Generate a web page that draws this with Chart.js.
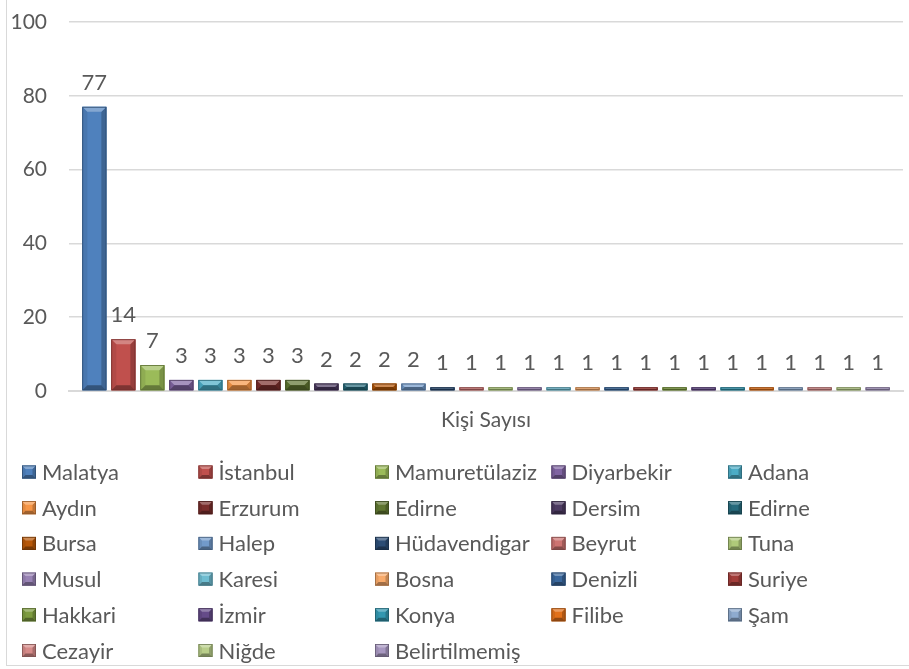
<!DOCTYPE html>
<html>
<head>
<meta charset="utf-8">
<script src="https://cdn.jsdelivr.net/npm/chart.js@4"></script>
<style>
html,body{margin:0;padding:0;background:#fff;overflow:hidden;}
#wrap{position:relative;width:909px;height:669px;}
#frame{position:absolute;left:6px;top:-10px;width:930px;height:676px;border:1.5px solid #d9d9d9;box-sizing:border-box;}
canvas{position:absolute;left:0;top:0;}
</style>
</head>
<body>
<div id="wrap"><div id="frame"></div><canvas id="c" width="909" height="669"></canvas></div>
<script>
const categories = ['Kişi Sayısı'];
const seriesNames = ['Malatya','İstanbul','Mamuretülaziz','Diyarbekir','Adana','Aydın','Erzurum','Edirne','Dersim','Edirne','Bursa','Halep','Hüdavendigar','Beyrut','Tuna','Musul','Karesi','Bosna','Denizli','Suriye','Hakkari','İzmir','Konya','Filibe','Şam','Cezayir','Niğde','Belirtilmemiş'];
const seriesValues = [77,14,7,3,3,3,3,3,2,2,2,2,1,1,1,1,1,1,1,1,1,1,1,1,1,1,1,1];
const seriesColors = ['#4F81BD','#C0504D','#9BBB59','#8064A2','#4BACC6','#F79646','#7A2E2C','#5F7530','#4D3B62','#276A7C','#B65708','#729ACA','#2C4D75','#CD7371','#AFC97A','#9983B5','#6FBDD1','#F9AB6B','#3A679C','#A33D3A','#7E9C40','#654B89','#3397B0','#E2711A','#8EABCF','#D68B89','#B9CE8A','#A898C1'];
const yTicks = [0,20,40,60,80,100];

const FONT = 'Lato, "Liberation Sans", sans-serif';
const TEXT = '#595959';

function shade(hex, f){
  const n = parseInt(hex.slice(1),16);
  let r=(n>>16)&255,g=(n>>8)&255,b=n&255;
  if(f>=0){r=r+(255-r)*f;g=g+(255-g)*f;b=b+(255-b)*f;}
  else{r=r*(1+f);g=g*(1+f);b=b*(1+f);}
  return 'rgb('+Math.round(r)+','+Math.round(g)+','+Math.round(b)+')';
}

function bevel(ctx, x0, y0, x1, y1, color){
  const w = x1-x0, h = y1-y0;
  const d = Math.max(1, Math.min(5, w/4, h/2));
  ctx.save();
  ctx.fillStyle = color; ctx.fillRect(x0,y0,w,h);
  ctx.fillStyle = shade(color,-0.08);
  ctx.beginPath(); ctx.moveTo(x0,y0); ctx.lineTo(x0+d,y0+d); ctx.lineTo(x0+d,y1-d); ctx.lineTo(x0,y1); ctx.closePath(); ctx.fill();
  ctx.fillStyle = shade(color,-0.22);
  ctx.beginPath(); ctx.moveTo(x1,y0); ctx.lineTo(x1-d,y0+d); ctx.lineTo(x1-d,y1-d); ctx.lineTo(x1,y1); ctx.closePath(); ctx.fill();
  ctx.fillStyle = shade(color,0.3);
  ctx.beginPath(); ctx.moveTo(x0,y0); ctx.lineTo(x1,y0); ctx.lineTo(x1-d,y0+d); ctx.lineTo(x0+d,y0+d); ctx.closePath(); ctx.fill();
  ctx.fillStyle = shade(color,-0.35);
  ctx.beginPath(); ctx.moveTo(x0,y1); ctx.lineTo(x1,y1); ctx.lineTo(x1-d,y1-d); ctx.lineTo(x0+d,y1-d); ctx.closePath(); ctx.fill();
  ctx.strokeStyle = shade(color,-0.4); ctx.lineWidth = 0.8;
  ctx.strokeRect(x0+0.4,y0+0.4,w-0.8,h-0.8);
  ctx.restore();
}

const datasets = seriesNames.map((name,i)=>({
  label: name,
  data: [seriesValues[i]],
  backgroundColor: seriesColors[i],
  borderWidth: 0,
  barPercentage: 0.828,
  categoryPercentage: 0.974
}));

const bevelPlugin = {
  id:'bevelBars',
  afterDatasetsDraw(chart){
    const ctx = chart.ctx;
    chart.data.datasets.forEach((ds,i)=>{
      const meta = chart.getDatasetMeta(i);
      meta.data.forEach(bar=>{
        const p = bar.getProps(['x','y','base','width'],true);
        bevel(ctx, p.x-p.width/2, p.y, p.x+p.width/2, p.base, ds.backgroundColor);
        ctx.save();
        ctx.fillStyle = TEXT;
        ctx.font = '22px ' + FONT;
        ctx.textAlign = 'center';
        ctx.textBaseline = 'middle';
        ctx.fillText(String(ds.data[0]), p.x, p.y - 24);
        ctx.restore();
      });
    });
  }
};

const legendPlugin = {
  id:'gridLegend',
  afterDraw(chart){
    const ctx = chart.ctx;
    ctx.save();
    ctx.font = '22px ' + FONT;
    ctx.textBaseline = 'middle';
    ctx.textAlign = 'left';
    chart.data.datasets.forEach((ds,i)=>{
      const col = i%5, row = Math.floor(i/5);
      const x = 22 + col*176.5;
      const y = 472 + row*35.7;
      bevel(ctx, x, y-6.5, x+14, y+6.5, ds.backgroundColor);
      ctx.fillStyle = TEXT;
      ctx.fillText(ds.label, x+20, y+1);
    });
    ctx.restore();
  }
};

new Chart(document.getElementById('c'), {
  type:'bar',
  data:{labels:categories, datasets},
  options:{
    responsive:false,
    devicePixelRatio:1,
    animation:false,
    layout:{padding:{left:8,right:6,top:22,bottom:228}},
    plugins:{legend:{display:false},tooltip:{enabled:false}},
    scales:{
      x:{
        grid:{display:false,drawTicks:false},
        border:{display:true,color:'#D9D9D9',width:2},
        ticks:{color:TEXT,font:{family:FONT,size:21},padding:17},
        afterFit(s){s.height=50;s.paddingLeft=0;s.paddingRight=0;}
      },
      y:{
        min:0,max:100,
        afterBuildTicks(s){s.ticks = yTicks.map(v=>({value:v}));},
        grid:{color:'#D9D9D9',lineWidth:1.5,drawTicks:false},
        border:{display:false},
        ticks:{color:TEXT,font:{family:FONT,size:21},padding:22},
        afterFit(s){s.width=61;s.paddingTop=0;s.paddingBottom=0;}
      }
    }
  },
  plugins:[bevelPlugin, legendPlugin]
});
</script>
</body>
</html>
